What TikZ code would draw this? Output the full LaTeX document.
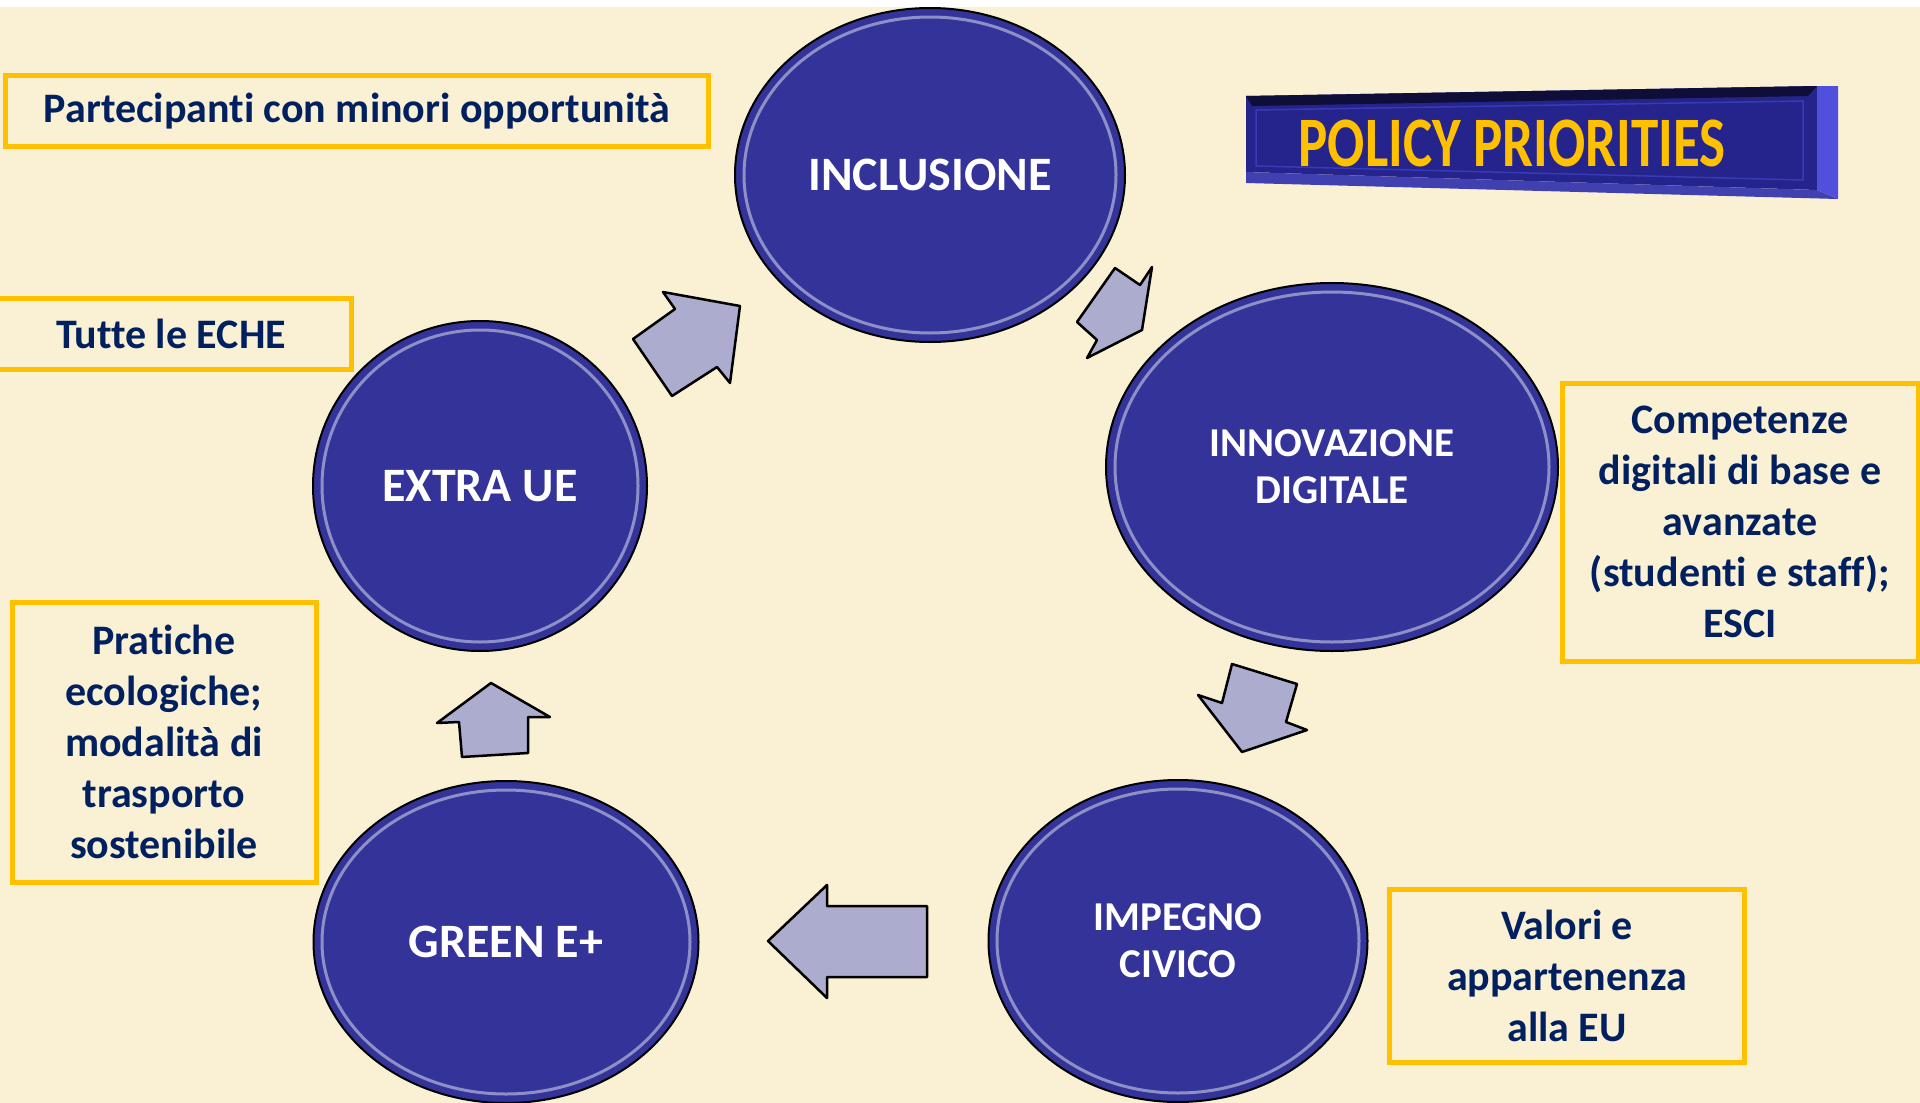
\documentclass[tikz,border=0pt]{standalone}
\usepackage{fontspec}
\setmainfont{Carlito}[RawFeature={-liga;-clig;-calt;-dlig}]
\usepackage{graphicx}
\usetikzlibrary{shapes.geometric}
\definecolor{paper}{RGB}{250,240,212}
\definecolor{ovalblue}{RGB}{51,51,153}
\definecolor{boxgold}{RGB}{255,192,0}
\definecolor{textnavy}{RGB}{0,32,96}
\definecolor{arrowgrey}{RGB}{172,172,206}
\definecolor{bannerblue}{RGB}{36,36,140}
\definecolor{bevelblue}{RGB}{80,80,220}

\begin{document}
\begin{tikzpicture}[x=1pt,y=-1pt,
  oval/.style={ellipse,draw=black,line width=2pt,fill=ovalblue,text=white,inner sep=0pt,
    font=\bfseries\fontsize{48}{56}\selectfont,align=center},
  smalloval/.style={oval,font=\bfseries\fontsize{41}{47}\selectfont},
  glint/.style={draw=white,opacity=0.45,line width=3pt},
  note/.style={draw=boxgold,line width=5pt,text=textnavy,inner sep=0pt,
    font=\bfseries\fontsize{42}{51}\selectfont,align=center},
  blockarrow/.style={draw=black,line width=2.5pt,line join=round,fill=arrowgrey}]
\useasboundingbox (0,0) rectangle (1920,1103);
\fill[white] (0,0) rectangle (1920,7);
\fill[paper] (0,7) rectangle (1920,1103);

% banner
\fill[bannerblue] (1246,96) -- (1817,86) -- (1817,190) -- (1246,172) -- cycle;
\fill[black!60!bannerblue] (1246,96) -- (1817,86) -- (1808,96) -- (1252,106) -- cycle;
\fill[bevelblue!80!black] (1246,172) -- (1817,190) -- (1838,199) -- (1246,183) -- cycle;
\fill[bevelblue] (1817,86) -- (1838,86) -- (1838,199) -- (1817,190) -- cycle;
\draw[bevelblue!50!bannerblue,line width=1.5pt] (1256,110) -- (1803,101) -- (1803,180) -- (1256,166) -- cycle;
\node[text=boxgold,font=\bfseries\fontsize{71}{80}\selectfont] (title) at (1512,143)
  {\scalebox{0.775}[1]{POLICY PRIORITIES}};

% ovals
\node[oval,minimum width=390pt,minimum height=334pt] (incl) at (930,175) {INCLUSIONE};
\node[smalloval,minimum width=452pt,minimum height=368pt] (innov) at (1332,467) {INNOVAZIONE\\DIGITALE};
\node[smalloval,minimum width=379pt,minimum height=322pt] (civic) at (1178,941) {IMPEGNO\\CIVICO};
\node[oval,minimum width=385pt,minimum height=322pt] (green) at (506,942) {GREEN E+};
\node[oval,minimum width=334pt,minimum height=330pt] (extra) at (480,486) {EXTRA UE};
\draw[glint] (incl) ellipse (186pt and 158pt);
\draw[glint] (innov) ellipse (217pt and 175pt);
\draw[glint] (civic) ellipse (181pt and 152pt);
\draw[glint] (green) ellipse (184pt and 152pt);
\draw[glint] (extra) ellipse (158pt and 156pt);

% arrows
\draw[blockarrow] (740,306) -- (730,383) -- (717,367) -- (672,396) -- (633,339) -- (675,309) -- (663,292) -- cycle;
\draw[blockarrow] (1115,268) -- (1140,285) -- (1152,267) -- (1142,330) -- (1087,358) -- (1097,340) -- (1077,322) -- cycle;
\draw[blockarrow] (1232,664) -- (1297,684) -- (1286,722) -- (1307,730) -- (1242,752) -- (1198,695) -- (1222,703) -- cycle;
\draw[blockarrow] (768,941) -- (827,885) -- (827,906) -- (927,906) -- (927,977) -- (827,977) -- (827,998) -- cycle;
\draw[blockarrow] (491,683) -- (550,717) -- (528,717) -- (528,753) -- (462,757) -- (459,722) -- (437,723) -- cycle;

% notes
\node[note,minimum width=703pt,minimum height=71pt] (lessopp) at (357,111) {Partecipanti con minori opportunità};
\node[note,minimum width=360pt,minimum height=71pt] (eche) at (171,334) {Tutte le ECHE};
\node[note,minimum width=304pt,minimum height=280pt] (eco) at (164,742) {Pratiche\\ecologiche;\\modalità di\\trasporto\\sostenibile};
\node[note,minimum width=356pt,minimum height=278pt] (skills) at (1740,522) {Competenze\\digitali di base e\\avanzate\\(studenti e staff);\\ESCI};
\node[note,minimum width=355pt,minimum height=173pt] (values) at (1567,976) {Valori e\\appartenenza\\alla EU};
\end{tikzpicture}
\end{document}
